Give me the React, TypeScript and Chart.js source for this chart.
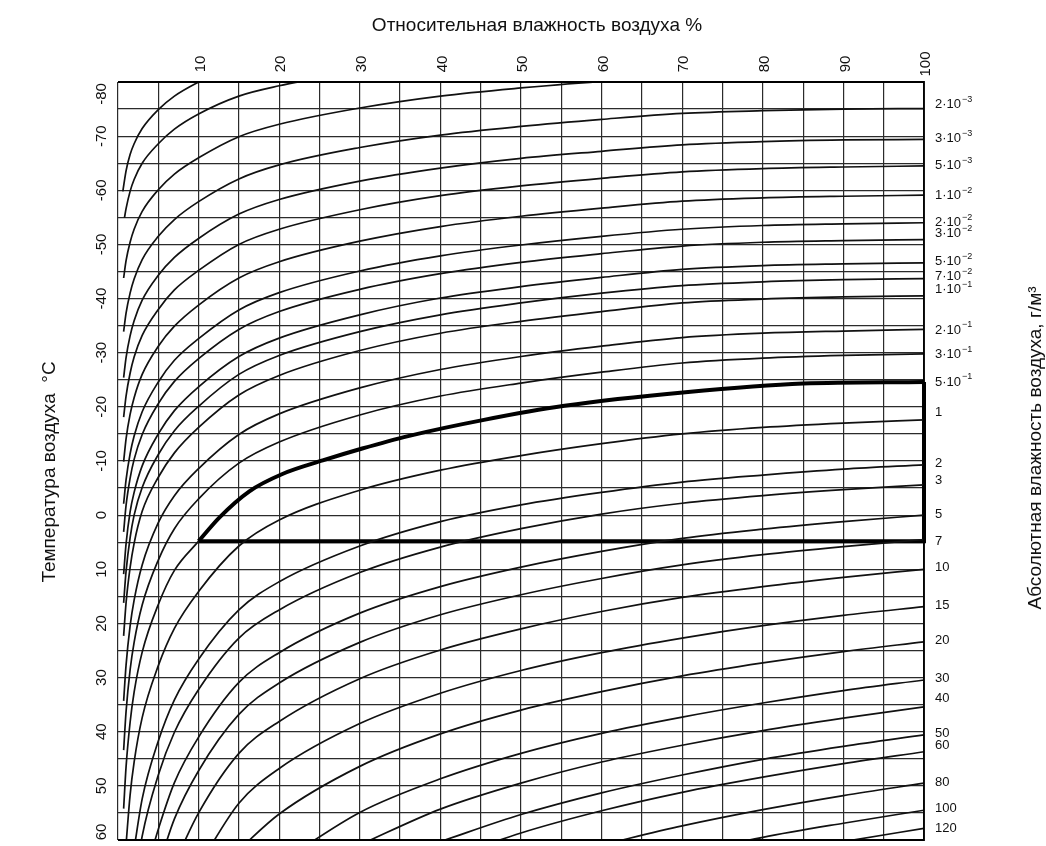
import React, { useEffect, useRef } from "react";
import { Chart, registerables } from "chart.js";

Chart.register(...registerables);

// ---- axis ticks / labels ----
const rhTicks = [10, 20, 30, 40, 50, 60, 70, 80, 90, 100];
const tempTicks = [-80, -70, -60, -50, -40, -30, -20, -10, 0, 10, 20, 30, 40, 50, 60];
const titleTop = "Относительная влажность воздуха %";
const titleLeft = "Температура воздуха  °С";
const titleRight = "Абсолютная влажность воздуха, г/м³";

// right-hand absolute humidity labels (mantissa, exponent, temperature where label sits)
const ahMant = ["2", "3", "5", "1", "2", "3", "5", "7", "1", "2", "3", "5", "1", "2", "3", "5", "7", "10", "15", "20", "30", "40", "50", "60", "80", "100", "120"];
const ahExp = [-3, -3, -3, -2, -2, -2, -2, -2, -1, -1, -1, -1, 0, 0, 0, 0, 0, 0, 0, 0, 0, 0, 0, 0, 0, 0, 0];
const ahLabelTemps = [-75.8, -69.5, -64.5, -59.1, -54.1, -52.1, -46.9, -44.0, -41.6, -34.2, -29.6, -24.6, -19.0, -9.6, -6.5, -0.2, 4.8, 9.6, 16.6, 23.1, 30.1, 33.8, 40.3, 42.5, 49.4, 54.2, 57.9];

// ---- isolines of absolute humidity: [relative humidity %, temperature °C] ----
const curveA = [[0.6, -59.8], [1, -63.6], [1.5, -66.6], [2, -68.6], [3, -71.4], [5, -74.9], [7, -77.4], [10, -80.0], [12, -81.4]];
const curveB = [[0.8, -54.9], [1, -56.6], [1.5, -59.8], [2, -62.0], [3, -65.0], [5, -68.6], [7, -71.3], [10, -74.1], [15, -77.4], [20, -79.3], [25, -80.7]];
const curveC = [[0.7, -43.8], [1, -47.0], [1.5, -50.4], [2, -52.8], [3, -56.1], [5, -60.1], [7, -63.0], [10, -66.0], [15, -69.9], [20, -72.2], [30, -75.2], [40, -77.4], [50, -78.9], [60, -80.1], [70, -81.1]];
const curve2e3 = [[0.7, -33.9], [1, -37.3], [1.5, -41.0], [2, -43.6], [3, -47.2], [5, -51.5], [7, -54.6], [10, -57.9], [15, -62.1], [20, -64.7], [30, -67.9], [40, -70.2], [50, -71.8], [60, -73.1], [70, -74.2], [80, -74.7], [90, -75.0], [100, -75.1]];
const curve3e3 = [[0.7, -25.4], [1, -29.1], [1.5, -33.1], [2, -35.9], [3, -39.7], [5, -44.3], [7, -47.6], [10, -51.1], [15, -55.6], [20, -58.3], [30, -61.7], [40, -64.1], [50, -65.9], [60, -67.2], [70, -68.4], [80, -69.0], [90, -69.3], [100, -69.4]];
const curve5e3 = [[0.7, -18.1], [1, -22.0], [1.5, -26.2], [2, -29.2], [3, -33.2], [5, -38.0], [7, -41.6], [10, -45.2], [15, -50.0], [20, -52.8], [30, -56.4], [40, -59.0], [50, -60.8], [60, -62.2], [70, -63.4], [80, -64.0], [90, -64.3], [100, -64.5]];
const curve1e2 = [[0.7, -9.9], [1, -14.1], [1.5, -18.6], [2, -21.7], [3, -26.0], [5, -31.2], [7, -34.9], [10, -38.8], [15, -43.8], [20, -46.8], [30, -50.6], [40, -53.3], [50, -55.2], [60, -56.7], [70, -58.0], [80, -58.6], [90, -58.9], [100, -59.1]];
const curve2e2 = [[0.7, -2.1], [1, -6.5], [1.5, -11.3], [2, -14.6], [3, -19.1], [5, -24.6], [7, -28.6], [10, -32.6], [15, -37.9], [20, -41.1], [30, -45.1], [40, -47.9], [50, -49.9], [60, -51.5], [70, -52.8], [80, -53.5], [90, -53.8], [100, -54.0]];
const curve3e2 = [[0.7, 3.1], [1, -1.8], [1.5, -6.8], [2, -10.3], [3, -14.9], [5, -20.6], [7, -24.7], [10, -28.9], [15, -34.3], [20, -37.6], [30, -41.7], [40, -44.6], [50, -46.7], [60, -48.3], [70, -49.7], [80, -50.4], [90, -50.7], [100, -50.9]];
const curve5e2 = [[0.7, 10.9], [1, 5.3], [1.5, -0.6], [2, -4.2], [3, -9.1], [5, -15.0], [7, -19.3], [10, -23.7], [15, -29.3], [20, -32.7], [30, -37.0], [40, -40.1], [50, -42.2], [60, -43.9], [70, -45.4], [80, -46.1], [90, -46.4], [100, -46.6]];
const curve7e2 = [[0.7, 16.2], [1, 10.4], [1.5, 4.2], [2, 0.0], [3, -5.1], [5, -11.2], [7, -15.6], [10, -20.1], [15, -26.0], [20, -29.5], [30, -33.9], [40, -37.0], [50, -39.2], [60, -41.0], [70, -42.4], [80, -43.1], [90, -43.5], [100, -43.7]];
const curve1e1 = [[0.7, 22.3], [1, 16.2], [1.5, 9.7], [2, 5.2], [3, -0.7], [5, -7.0], [7, -11.5], [10, -16.2], [15, -22.2], [20, -25.8], [30, -30.4], [40, -33.6], [50, -35.8], [60, -37.6], [70, -39.2], [80, -39.9], [90, -40.3], [100, -40.5]];
const curve2e1 = [[0.7, 34.3], [1, 27.7], [1.5, 20.5], [2, 15.7], [3, 9.2], [5, 1.4], [7, -3.6], [10, -8.6], [15, -14.9], [20, -18.7], [30, -23.5], [40, -26.9], [50, -29.3], [60, -31.2], [70, -32.8], [80, -33.6], [90, -34.0], [100, -34.3]];
const curve3e1 = [[0.7, 43.4], [1, 36.3], [1.5, 28.6], [2, 23.5], [3, 16.6], [5, 8.3], [7, 2.5], [10, -3.0], [15, -9.6], [20, -13.5], [30, -18.5], [40, -22.0], [50, -24.4], [60, -26.4], [70, -28.1], [80, -29.0], [90, -29.5], [100, -29.8]];
const curve5e1Low = [[0.7, 54.2], [1, 46.5], [1.5, 38.3], [2, 32.7], [3, 25.3], [5, 16.5], [7, 10.2], [10, 4.8]];
const curve5e1 = [[10, 4.8], [12.6, 0.4], [16.3, -4.4], [20.4, -7.6], [25.4, -10.1], [30.3, -12.3], [36, -14.6], [45.4, -17.6], [55.4, -20.2], [70.4, -22.7], [85, -24.3], [100, -24.6]];
const curve1 = [[1, 60.8], [1.5, 51.7], [2, 45.6], [3, 37.4], [5, 27.8], [7, 20.9], [10, 14.1], [15, 5.7], [20, 0.9], [30, -4.6], [40, -8.3], [50, -11.0], [60, -13.2], [70, -15.0], [80, -16.2], [90, -17.0], [100, -17.6]];
const curve2 = [[2, 61.6], [3, 52.4], [5, 41.7], [7, 34.1], [10, 26.6], [15, 17.5], [20, 12.3], [30, 5.7], [40, 1.2], [50, -1.9], [60, -4.2], [70, -6.1], [80, -7.4], [90, -8.5], [100, -9.3]];
const curve3 = [[2, 68.9], [3, 59.3], [5, 48.0], [7, 40.1], [10, 32.2], [15, 22.7], [20, 17.5], [30, 10.6], [40, 5.9], [50, 2.5], [60, -0.2], [70, -2.2], [80, -3.6], [90, -4.7], [100, -5.6]];
const curve5 = [[4, 63.1], [5, 58.0], [7, 49.4], [10, 41.0], [15, 30.9], [20, 25.4], [30, 18.1], [40, 13.2], [50, 9.6], [60, 6.7], [70, 4.3], [80, 2.6], [90, 1.2], [100, 0.0]];
const curve7 = [[5, 65.0], [7, 56.1], [10, 47.2], [15, 36.8], [20, 31.0], [30, 23.5], [40, 18.4], [50, 14.7], [60, 11.7], [70, 9.2], [80, 7.3], [90, 5.8], [100, 4.5]];
const curve10 = [[7, 64.3], [10, 55.0], [15, 44.0], [20, 38.1], [30, 30.2], [40, 24.9], [50, 21.0], [60, 17.8], [70, 15.2], [80, 13.2], [90, 11.5], [100, 10.0]];
const curve15 = [[10, 64.8], [15, 53.2], [20, 46.8], [30, 38.5], [40, 32.9], [50, 28.7], [60, 25.4], [70, 22.7], [80, 20.4], [90, 18.5], [100, 16.9]];
const curve20 = [[15, 61.8], [20, 55.2], [30, 46.4], [40, 40.4], [50, 36.0], [60, 32.6], [70, 29.7], [80, 27.3], [90, 25.2], [100, 23.4]];
const curve30 = [[20, 64.3], [30, 54.9], [40, 48.7], [50, 44.0], [60, 40.3], [70, 37.3], [80, 34.7], [90, 32.4], [100, 30.45]];
const curve40 = [[30, 60.9], [40, 54.3], [50, 49.5], [60, 45.6], [70, 42.5], [80, 39.8], [90, 37.5], [100, 35.4]];
const curve50 = [[40, 60.3], [50, 55.3], [60, 51.3], [70, 48.0], [80, 45.1], [90, 42.7], [100, 40.6]];
const curve60 = [[40, 63.9], [50, 58.7], [60, 54.6], [70, 51.2], [80, 48.4], [90, 45.9], [100, 43.7]];
const curve80 = [[60, 60.9], [70, 57.4], [80, 54.4], [90, 51.8], [100, 49.5]];
const curve100 = [[70, 62.7], [80, 59.5], [90, 56.9], [100, 54.5]];
const curve120 = [[80, 63.0], [90, 60.3], [100, 57.85]];

// bold outline of the marked region (RH %, °C)
const regionEdge = [[100, -24.6], [100, 4.8], [10, 4.8]];

const thinCurves = [
  curveA, curveB, curveC, curve2e3, curve3e3, curve5e3, curve1e2, curve2e2, curve3e2,
  curve5e2, curve7e2, curve1e1, curve2e1, curve3e1, curve5e1Low, curve1, curve2, curve3,
  curve5, curve7, curve10, curve15, curve20, curve30, curve40, curve50, curve60, curve80,
  curve100, curve120,
];

const FONT = "'Liberation Sans', Arial, Helvetica, sans-serif";
const INK = "#111";

const toXY = (pts: number[][]) => pts.map(([x, y]) => ({ x, y }));

const labelsPlugin = {
  id: "labelsPlugin",
  afterDraw(chart: any) {
    const { ctx, chartArea, scales } = chart;
    const xs = scales.x;
    const ys = scales.y;
    ctx.save();
    ctx.fillStyle = INK;
    ctx.strokeStyle = "#000";

    // frame
    ctx.lineWidth = 1.8;
    ctx.beginPath();
    ctx.moveTo(chartArea.left, chartArea.top);
    ctx.lineTo(chartArea.right, chartArea.top);
    ctx.lineTo(chartArea.right, chartArea.bottom);
    ctx.lineTo(chartArea.left, chartArea.bottom);
    ctx.stroke();

    // titles
    ctx.textAlign = "center";
    ctx.textBaseline = "middle";
    ctx.font = `19px ${FONT}`;
    ctx.fillText(titleTop, 537, 26);
    ctx.save();
    ctx.translate(50, 472);
    ctx.rotate(-Math.PI / 2);
    ctx.fillText(titleLeft, 0, 0);
    ctx.restore();
    ctx.save();
    ctx.translate(1036, 448);
    ctx.rotate(-Math.PI / 2);
    ctx.fillText(titleRight, 0, 0);
    ctx.restore();

    // top tick labels (rotated)
    ctx.font = `15px ${FONT}`;
    rhTicks.forEach((v) => {
      const px = xs.getPixelForValue(v);
      ctx.save();
      ctx.translate(px + 2, 64);
      ctx.rotate(-Math.PI / 2);
      ctx.fillText(String(v), 0, 0);
      ctx.restore();
    });

    // left tick labels (rotated)
    tempTicks.forEach((t) => {
      let py = ys.getPixelForValue(t);
      py = Math.max(py, chartArea.top + 12);
      py = Math.min(py, chartArea.bottom - 8);
      ctx.save();
      ctx.translate(102, py);
      ctx.rotate(-Math.PI / 2);
      ctx.fillText(String(t), 0, 0);
      ctx.restore();
    });

    // right absolute humidity labels
    ctx.textAlign = "left";
    ahMant.forEach((m, i) => {
      const py = ys.getPixelForValue(ahLabelTemps[i]);
      const x0 = chartArea.right + 11;
      const e = ahExp[i];
      ctx.font = `13px ${FONT}`;
      if (e !== 0) {
        const base = `${m}·10`;
        ctx.fillText(base, x0, py);
        const w = ctx.measureText(base).width;
        ctx.font = `9px ${FONT}`;
        ctx.fillText(`−${Math.abs(e)}`, x0 + w + 1, py - 5);
      } else {
        ctx.fillText(m, x0, py);
      }
    });

    ctx.restore();
  },
};

export default function App() {
  const ref = useRef<HTMLCanvasElement | null>(null);

  useEffect(() => {
    if (!ref.current) return;
    const datasets: any[] = thinCurves.map((pts) => ({
      data: toXY(pts),
      borderColor: INK,
      borderWidth: 1.7,
      pointRadius: 0,
      fill: false,
      cubicInterpolationMode: "monotone",
      clip: 0,
    }));
    datasets.push({
      data: toXY(curve5e1),
      borderColor: "#000",
      borderWidth: 4,
      pointRadius: 0,
      fill: false,
      cubicInterpolationMode: "monotone",
      clip: 0,
    });
    datasets.push({
      data: toXY(regionEdge),
      borderColor: "#000",
      borderWidth: 4,
      pointRadius: 0,
      fill: false,
      tension: 0,
      clip: 3,
    });

    const gridStyle = {
      color: "#2b2b2b",
      lineWidth: 1.2,
      drawTicks: false,
    };

    const chart = new Chart(ref.current, {
      type: "line",
      data: { datasets },
      options: {
        animation: false,
        responsive: false,
        maintainAspectRatio: false,
        events: [],
        layout: { padding: { left: 118, right: 122, top: 82, bottom: 6 } },
        plugins: { legend: { display: false }, tooltip: { enabled: false }, title: { display: false } },
        scales: {
          x: {
            type: "linear",
            min: 0,
            max: 100,
            ticks: { display: false, stepSize: 5 },
            grid: gridStyle,
            border: { display: false },
          },
          y: {
            type: "linear",
            min: -80,
            max: 60,
            reverse: true,
            ticks: { display: false, stepSize: 5 },
            grid: gridStyle,
            border: { display: false },
          },
        },
      } as any,
      plugins: [labelsPlugin],
    });
    return () => chart.destroy();
  }, []);

  return (
    <div style={{ position: "fixed", left: 0, top: 0, width: 1046, height: 846, background: "#fff" }}>
      <canvas ref={ref} width={1046} height={846} style={{ display: "block" }} />
    </div>
  );
}
